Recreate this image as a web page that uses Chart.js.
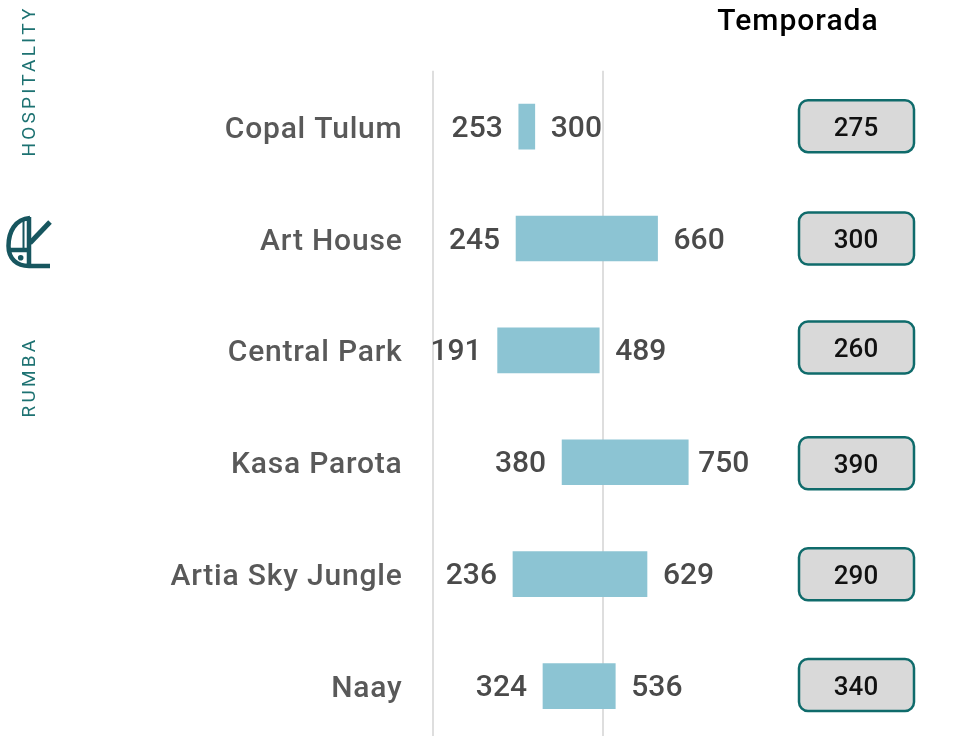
<!DOCTYPE html>
<html>
<head>
<meta charset="utf-8">
<script src="https://cdn.jsdelivr.net/npm/chart.js@4"></script>
<style>
  html, body { margin: 0; padding: 0; background: #fff; overflow: hidden; height: 736px; }
  #wrap { position: absolute; left: 0; top: 0; width: 955px; height: 800px; }
</style>
</head>
<body>
<div id="wrap"><canvas id="rangos"></canvas></div>
<script>
var hoteles = ['Copal Tulum', 'Art House', 'Central Park', 'Kasa Parota', 'Artia Sky Jungle', 'Naay'];
var minimos = [253, 245, 191, 380, 236, 324];
var maximos = [300, 660, 489, 750, 629, 536];
var temporada = [275, 300, 260, 390, 290, 340];
var marcasX = [0, 500];

var fuente = '"Roboto", sans-serif';

// values and the boxes on the right
var etiquetas = {
  id: 'etiquetas',
  beforeDraw: function (chart) {
    // picked up by the axis labels
    chart.ctx.letterSpacing = '0.8px';
  },
  afterDatasetsDraw: function (chart) {
    var c = chart.ctx, x = chart.scales.x, y = chart.scales.y;
    c.save();
    c.textBaseline = 'middle';
    c.font = '500 30px ' + fuente;
    c.letterSpacing = '0px';
    c.fillStyle = '#4a4a4a';
    hoteles.forEach(function (h, i) {
      var py = y.getPixelForValue(i) + 2.5;
      c.textAlign = 'right';
      c.fillText(minimos[i], x.getPixelForValue(minimos[i]) - 16, py);
      c.textAlign = 'left';
      c.fillText(maximos[i], x.getPixelForValue(maximos[i]) + (maximos[i] >= 750 ? 10 : 16), py);
    });

    // the boxes are not quite evenly spaced in the original
    var ajuste = [-0.5, 0, -3, 1, 0, -1];
    c.textAlign = 'center';
    c.font = '500 26px ' + fuente;
    hoteles.forEach(function (h, i) {
      var py = y.getPixelForValue(i) + ajuste[i];
      c.beginPath();
      c.roundRect(799, py - 26, 115, 52, 9);
      c.fillStyle = '#d9d9d9';
      c.fill();
      c.lineWidth = 2.5;
      c.strokeStyle = '#0f6b6b';
      c.stroke();
      c.fillStyle = '#111';
      c.fillText(temporada[i], 856, py + 3);
    });

    c.font = '500 30px ' + fuente;
    c.letterSpacing = '1px';
    c.fillStyle = '#000';
    c.fillText('Temporada', 798, 22);

    // side text
    c.font = '400 19px ' + fuente;
    c.letterSpacing = '3.2px';
    c.fillStyle = '#1d7272';
    c.save();
    c.translate(30, 81);
    c.rotate(-Math.PI / 2);
    c.fillText('HOSPITALITY', 0, 0);
    c.restore();
    c.save();
    c.translate(30, 377);
    c.rotate(-Math.PI / 2);
    c.fillText('RUMBA', 0, 0);
    c.restore();

    // logo
    c.strokeStyle = '#17565f';
    c.lineWidth = 4.5;
    c.beginPath();
    c.moveTo(30, 218);
    c.bezierCurveTo(15, 219, 8.5, 232, 8.5, 246);
    c.bezierCurveTo(8.5, 259, 17, 266, 29, 266);
    c.lineTo(50, 266);
    c.moveTo(8, 250);
    c.lineTo(29, 250);
    c.moveTo(29, 217);
    c.lineTo(29, 268);
    c.stroke();
    c.lineWidth = 5;
    c.beginPath();
    c.moveTo(30, 243);
    c.lineTo(50, 222);
    c.stroke();
    c.lineWidth = 2;
    c.beginPath();
    c.moveTo(23.5, 220);
    c.lineTo(23.5, 249);
    c.stroke();
    c.beginPath();
    c.arc(20.7, 257.7, 2.8, 0, Math.PI * 2);
    c.fillStyle = '#17565f';
    c.fill();
    c.restore();
  }
};

new Chart(document.getElementById('rangos').getContext('2d'), {
  type: 'bar',
  data: {
    labels: hoteles,
    datasets: [{
      data: minimos.map(function (m, i) { return [m, maximos[i]]; }),
      backgroundColor: '#8cc4d3',
      borderSkipped: false,
      borderWidth: 0,
      barThickness: 45
    }]
  },
  plugins: [etiquetas],
  options: {
    indexAxis: 'y',
    responsive: true,
    maintainAspectRatio: false,
    animation: false,
    layout: { padding: { top: 70.7, right: 215.6, bottom: 58, left: 0 } },
    plugins: { legend: { display: false }, tooltip: { enabled: false } },
    scales: {
      x: {
        min: 0,
        max: 900,
        position: 'bottom',
        afterFit: function (s) { s.height = 0; },
        afterBuildTicks: function (s) { s.ticks = marcasX.map(function (v) { return { value: v }; }); },
        ticks: { display: false },
        border: { display: false },
        grid: { color: '#dedede', lineWidth: 2, drawTicks: false }
      },
      y: {
        afterFit: function (s) { s.width = 432.5; },
        ticks: {
          color: '#595959',
          padding: 22,
          labelOffset: 3.5,
          font: { family: 'Roboto', size: 30, weight: '500' }
        },
        border: { display: false },
        grid: { display: false }
      }
    }
  }
});
</script>
</body>
</html>
